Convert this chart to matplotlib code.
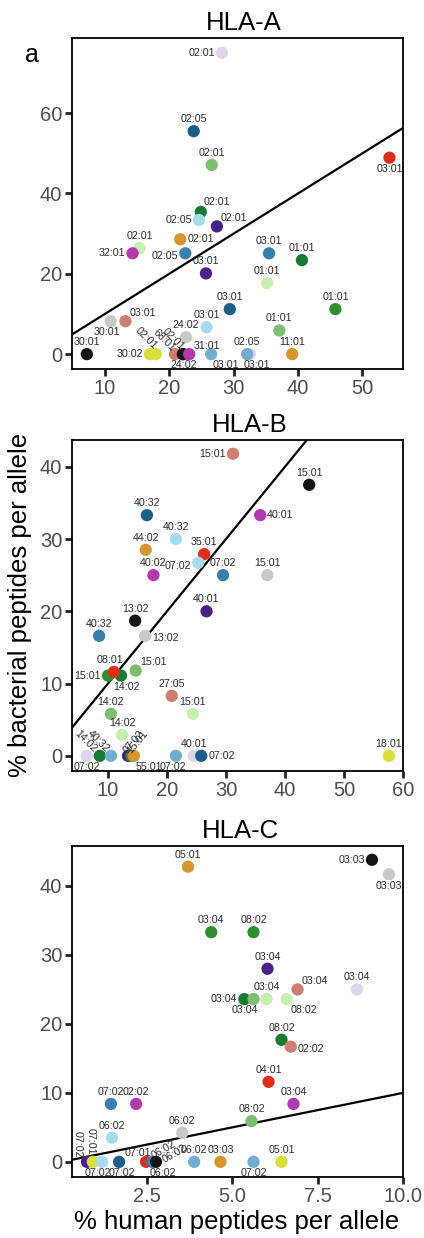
import matplotlib.pyplot as plt

plt.rcParams['font.family'] = ['Liberation Sans', 'DejaVu Sans']

# donor colours
BLACK = '#141414'
GRAY = '#c8c8c8'
RED = '#de2d1a'
SALMON = '#d27d74'
DKBLUE = '#1b5e89'
STEEL = '#3a7fab'
LTBLUE = '#a6dbef'
BLUE = '#6faed0'
DKGREEN = '#1a7a33'
GREEN = '#2f8f2f'
LTGREEN = '#7cbf6f'
PALEGREEN = '#c6efb0'
PURPLE = '#4a2186'
MAGENTA = '#b23aaf'
LAV = '#e0d3ee'
ORANGE = '#d6952f'
YELLOW = '#d9de3b'

# ---------------- HLA-A ----------------
a_alleles = ['03:01', '24:02', '02:01', '02:05', '02:01', '03:01', '02:01', '02:05', '02:01',
             '02:01', '02:01', '32:01', '02:05', '03:01', '03:01', '01:01', '01:01', '03:01',
             '01:01', '30:01', '03:01', '03:01', '01:01', '24:02', '30:01', '30:02', '02:01',
             '68:01', '02:01', '31:01', '03:01', '02:05', '11:01']
a_human = [32.5, 22.2, 28.2, 23.8, 26.6, 54.2, 24.9, 24.6, 27.4,
           21.7, 15.4, 14.3, 22.5, 25.7, 35.5, 40.6, 35.2, 29.4,
           45.8, 10.9, 13.2, 25.8, 37.1, 22.6, 7.2, 17.0, 17.9,
           20.9, 22.1, 23.1, 26.5, 32.1, 39.1]
a_bact = [0, 0, 75.0, 55.5, 47.1, 48.9, 35.4, 33.4, 31.8,
          28.6, 26.4, 25.1, 25.1, 20.1, 25.1, 23.4, 17.7, 11.2,
          11.2, 8.2, 8.2, 6.7, 5.9, 4.2, 0, 0, 0,
          0, 0, 0, 0, 0, 0]
a_colors = [LAV, GREEN, LAV, DKBLUE, LTGREEN, RED, DKGREEN, LTBLUE, PURPLE,
            ORANGE, PALEGREEN, MAGENTA, STEEL, PURPLE, STEEL, DKGREEN, PALEGREEN, DKBLUE,
            GREEN, GRAY, SALMON, LTBLUE, LTGREEN, GRAY, BLACK, YELLOW, YELLOW,
            SALMON, BLACK, MAGENTA, BLUE, BLUE, ORANGE]
a_pos = [(5, -4.5, 'center', 'top', 0), 'b', 'l', 'a', 'a', 'b', (2, 5, 'left', 'baseline', 0), 'l', 'ar',
         'r', 'a', 'l', (-5, -2, 'right', 'center', 0), 'a', 'a', 'a', 'a', 'a',
         'a', (-3, -4.5, 'center', 'top', 0), 'ar', 'a', 'a', 'a', 'a', 'l', (0, 5, 'right', 'center', -45),
         (-1, 3, 'right', 'center', -45), (0, 4, 'right', 'center', -45), 'ar', 'br', 'a', 'a']

# ---------------- HLA-B ----------------
b_alleles = ['15:01', '15:01', '40:32', '40:01', '40:32', '44:02', '35:01', '07:02', '40:02',
             '07:02', '15:01', '40:01', '13:02', '40:32', '13:02', '15:01', '14:02', '08:01',
             '15:01', '27:05', '15:01', '14:02', '14:02', '07:02', '14:02', '40:32', '07:02',
             '15:01', '55:01', '07:02', '40:01', '07:02', '18:01']
b_human = [31.2, 44.1, 16.6, 35.8, 21.5, 16.4, 26.3, 25.3, 17.7,
           29.5, 37.0, 26.7, 14.6, 8.5, 16.3, 10.0, 12.2, 11.0,
           14.7, 20.8, 24.4, 10.5, 12.4, 6.4, 8.6, 10.5, 13.4,
           14.0, 14.4, 21.5, 24.6, 25.8, 57.6]
b_bact = [41.8, 37.5, 33.3, 33.3, 30.0, 28.5, 27.9, 26.7, 25.0,
          25.0, 25.0, 20.0, 18.7, 16.6, 16.6, 11.1, 11.1, 11.6,
          11.8, 8.3, 5.8, 5.8, 2.9, 0, 0, 0, 0,
          0, 0, 0, 0, 0, 0]
b_colors = [SALMON, BLACK, DKBLUE, MAGENTA, LTBLUE, ORANGE, RED, LTBLUE, MAGENTA,
            STEEL, GRAY, PURPLE, BLACK, STEEL, GRAY, GREEN, DKGREEN, RED,
            LTGREEN, SALMON, PALEGREEN, LTGREEN, PALEGREEN, LAV, DKGREEN, BLUE, PURPLE,
            GREEN, ORANGE, BLUE, LAV, DKBLUE, YELLOW]
b_pos = ['l', 'a', 'a', 'r', 'a', 'a', 'a', (-5, -2.5, 'right', 'center', 0), 'a',
         'a', 'a', 'a', 'a', 'a', (5, -1.5, 'left', 'center', 0), 'l', (4, -4.5, 'center', 'top', 0),
         (-3, 6.5, 'center', 'baseline', 0),
         'ar', 'a', 'a', 'a', 'a', 'b', (-3, 4, 'right', 'center', -45), (-2, 4, 'right', 'center', -45),
         (-2, 3, 'left', 'center', 50),
         (-2, 3, 'left', 'center', 50), 'br', (-2, -4.5, 'center', 'top', 0), 'a', 'r', 'a']

# ---------------- HLA-C ----------------
c_alleles = ['05:01', '03:03', '03:03', '03:04', '08:02', '03:04', '03:04', '03:04', '03:04',
             '03:04', '03:04', '08:02', '08:02', '02:02', '04:01', '07:02', '02:02', '03:04',
             '08:02', '06:02', '06:02', '07:02', '07:01', '07:02', '07:02', '07:01', '06:02',
             '06:02', '06:02', '06:02', '03:03', '07:02', '05:01']
c_human = [3.70, 9.09, 9.59, 4.38, 5.62, 6.03, 6.91, 8.65, 5.35,
           5.62, 6.00, 6.59, 6.44, 6.71, 6.06, 1.44, 2.18, 6.79,
           5.56, 3.53, 1.47, 0.74, 0.91, 1.18, 1.68, 2.47, 2.65,
           2.76, 2.76, 3.88, 4.65, 5.62, 6.44]
c_bact = [42.8, 43.8, 41.7, 33.3, 33.3, 28.0, 25.0, 25.0, 23.6,
          23.6, 23.6, 23.6, 17.7, 16.7, 11.6, 8.4, 8.4, 8.4,
          5.9, 4.2, 3.5, 0, 0, 0, 0, 0, 0,
          0, 0, 0, 0, 0, 0]
c_colors = [ORANGE, BLACK, GRAY, GREEN, GREEN, PURPLE, SALMON, LAV, DKGREEN,
            LTGREEN, PALEGREEN, PALEGREEN, DKGREEN, SALMON, RED, STEEL, MAGENTA, MAGENTA,
            LTGREEN, GRAY, LTBLUE, PURPLE, YELLOW, LTBLUE, DKBLUE, RED, STEEL,
            LAV, BLACK, BLUE, ORANGE, BLUE, YELLOW]
c_pos = ['a', 'l', 'b', 'a', 'a', 'a', 'ar', 'a', 'l',
         (-6, -4.5, 'center', 'top', 0), 'a', (3, -4.5, 'left', 'top', 0), 'a',
         (5, -1.5, 'left', 'center', 0), 'a', 'a', 'a', 'a',
         'a', 'a', 'a', (-7, 3, 'right', 'center', -90), (-1.5, 5, 'right', 'center', -90),
         (-3, -4.5, 'center', 'top', 0), (2, -4.5, 'center', 'top', 0), (-6, 4, 'center', 'baseline', 0),
         (0, 4, 'left', 'center', 30),
         (5, -4.5, 'center', 'top', 0), (5, 1, 'left', 'center', 30), 'a', 'a', 'b', 'a']

POS = {
    'a': (0, 6.5, 'center', 'baseline', 0),
    'b': (0, -4.5, 'center', 'top', 0),
    'l': (-5, 0, 'right', 'center', 0),
    'r': (5, 0, 'left', 'center', 0),
    'ar': (3, 4, 'left', 'baseline', 0),
    'br': (1, -4.5, 'left', 'top', 0),
}

W, H = 424, 1238
fig = plt.figure(figsize=(W / 100, H / 100), dpi=100)


def panel(top_px, title, title_x, alleles, xs, ys, cols, pos, xlim, ylim, xticks, yticks,
          xticklabels=None):
    ax = fig.add_axes([72 / W, 1 - (top_px + 331) / H, 331 / W, 331 / H])
    ax.axline((0, 0), slope=1, color='black', lw=1.6, zorder=1)
    ax.scatter(xs, ys, s=78, c=cols, linewidths=0, zorder=2)
    for lab, x, y, p in zip(alleles, xs, ys, pos):
        if isinstance(p, str):
            p = POS[p]
        dx, dy, ha, va, rot = p
        ax.annotate(lab, (x, y), xytext=(dx, dy), textcoords='offset points',
                    ha=ha, va=va, rotation=rot, rotation_mode='anchor',
                    fontsize=7.7, color='#2b2b2b', zorder=3)
    ax.set_xlim(*xlim)
    ax.set_ylim(*ylim)
    ax.set_xticks(xticks)
    if xticklabels is not None:
        ax.set_xticklabels(xticklabels)
    ax.set_yticks(yticks)
    for s in ax.spines.values():
        s.set_linewidth(1.3)
    ax.tick_params(length=5, width=2, color='#222222', labelsize=14.5,
                   labelcolor='#4d4d4d', pad=2)
    ax.set_title(title, fontsize=18.5, pad=6, x=(title_x - 72) / 331)
    return ax


panel(38, 'HLA-A', 244, a_alleles, a_human, a_bact, a_colors, a_pos,
      (4.9, 56.3), (-3.7, 78.7), [10, 20, 30, 40, 50], [0, 20, 40, 60])
panel(440, 'HLA-B', 250, b_alleles, b_human, b_bact, b_colors, b_pos,
      (3.9, 60.0), (-2.1, 43.7), [10, 20, 30, 40, 50, 60], [0, 10, 20, 30, 40])
panel(846, 'HLA-C', 240, c_alleles, c_human, c_bact, c_colors, c_pos,
      (0.3, 10.0), (-2.2, 45.8), [2.5, 5.0, 7.5, 10.0], [0, 10, 20, 30, 40],
      ['2.5', '5.0', '7.5', '10.0'])

fig.text(32 / W, 1 - 55 / H, 'a', fontsize=18, ha='center', va='center')
fig.text(20 / W, 1 - 605 / H, '% bacterial peptides per allele', fontsize=18.5,
         rotation=90, ha='center', va='center')
fig.text(237 / W, 1 - 1222 / H, '% human peptides per allele', fontsize=18.5,
         ha='center', va='center')

fig.savefig('out.png', dpi=100)
